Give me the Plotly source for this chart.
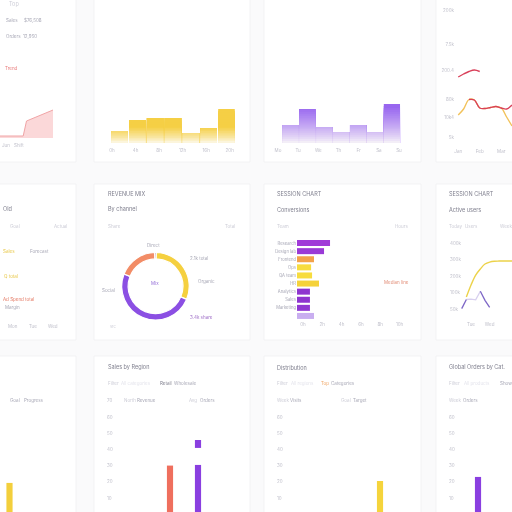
import numpy as np
import plotly.graph_objects as go

W, H = 512, 512

# ---------------- data ----------------
# row 1
trend_x = [0, 7, 8, 16]
trend_y = [2, 2, 17, 28]

hour_vals = [12, 23, 25, 25, 10, 15, 34]
hour_ticks = ["0h", "4h", "8h", "12h", "16h", "20h"]

day_vals = [18, 34, 16, 11, 18, 11, 39]
day_ticks = ["Mo", "Tu", "We", "Th", "Fr", "Sa", "Su"]

price_x = [0, 0.25, 0.5, 0.75, 1.0, 1.25, 1.5, 1.75, 2.0, 2.25, 2.5]
price_high = [65, 68, 70.5, 72, 70.5, None, None, None, None, None, None]
price_mid = [None, None, 42.5, 42, 34, 33.5, 34.5, 35.5, 34, 33, 37]
price_low = [27, 33, 42.5, 42, 34, 33.5, 34.5, 35.5, 34, 25, 16]
price_tickvals = [5, 25, 43, 72, 98, 132]
price_ticks = ["5k", "10k4", "80k", "200.4", "7.5k", "200k"]
price_xticks = ["Jan", "Feb", "Mar"]

# row 2
mix_labels = ["Other", "Direct", "Social", "Referral"]
mix_vals = [0.8, 31, 49.5, 18.7]

teams = ["Research", "Design lab", "Frontend", "Ops", "QA team",
         "HR", "Analytics", "Sales", "Marketing", " "]
team_hours = [1.71, 1.40, 0.88, 0.73, 0.78, 1.14, 0.67, 0.67, 0.67, 0.88]
hour_axis = ["0h", "2h", "4h", "6h", "8h", "10h"]

users_x = [0.5, 0.75, 1.0, 1.25, 1.5, 1.75, 2.0, 2.25, 2.5, 2.75, 3.0, 3.25]
users_new = [None, 0.75, 1.48, 2.08, 2.45, 2.75, 2.87, 2.92, 2.93, 2.93, 2.93, 2.93]
users_back = [0.05, 0.6, None, None, 1.1, 0.55, 0.12, None, None, None, None, None]
users_idle = [None, 0.6, 0.62, 0.58, 1.1, None, None, None, None, None, None, None]
users_yticks = ["50k", "100k", "200k", "300k", "400k"]
users_xticks = ["Mon", "Tue", "Wed", "Thu"]

# row 3
goal_cats = ["Q1"]
goal_vals = [1.93]

region_cats = ["Jan", "Feb", "Mar", "Apr", "May"]
region_retail = [None, None, 3.0, None, None]
region_whole = [None, None, None, 3.04, None]
region_peak_lo = [None, None, None, 4.09, None]
region_peak_hi = [None, None, None, 4.58, None]

dist_cats = ["A", "B", "C", "D", "E"]
dist_vals = [None, None, None, 2.05, None]

orders_cats = ["W1", "W2", "W3"]
orders_vals = [None, 2.3, None]

row3_ticks = ["10", "20", "30", "40", "50", "60", "70"]

# ---------------- style ----------------
FONT = "Inter"
TITLE = "#80808f"
LABEL = "#a8a8b6"
FAINT = "#cdcdd7"
TICK = "#bfbfca"
YELLOW = "#f5d03f"
PURPLE = "#8b4fe3"
RED = "#d9405a"
ORANGE = "#f28c66"


def blend(c1, c2, t):
    a = [int(c1[i:i + 2], 16) for i in (1, 3, 5)]
    b = [int(c2[i:i + 2], 16) for i in (1, 3, 5)]
    return "rgb(%d,%d,%d)" % tuple(round(a[k] + (b[k] - a[k]) * t) for k in range(3))


def xd(x0, x1):
    return [max(0, x0 / W), min(1, x1 / W)]


def yd(y0, y1):
    return [max(0, 1 - y1 / H), min(1, 1 - y0 / H)]


def axis(dom, **kw):
    a = dict(domain=dom, showgrid=False, zeroline=False, showline=False, ticks="",
             showticklabels=False, fixedrange=True, automargin=False,
             tickfont=dict(size=4.5, color=TICK, family=FONT))
    a.update(kw)
    return a


fig = go.Figure()
axes = {}


def add_axes(n, xdom, ydom, xkw, ykw):
    sx = "" if n == 1 else str(n)
    axes["xaxis" + sx] = axis(xdom, anchor="y" + sx, **xkw)
    axes["yaxis" + sx] = axis(ydom, anchor="x" + sx, **ykw)
    return "x" + sx, "y" + sx


def gradient_bars(x, vals, color, ax, width, solid_frac, n=20):
    # colour fades from white at the baseline to full colour at solid_frac of the tallest bar
    top = max(vals)
    v = np.array(vals, float)
    levels = np.linspace(0, top, n + 1)
    for i in range(n - 1, -1, -1):
        t = min(1.0, levels[i + 1] / (solid_frac * top)) ** 0.8
        fig.add_trace(go.Bar(x=x, y=np.minimum(v, levels[i + 1]), width=width,
                             marker=dict(color=blend("#fdfcf8", color, t), line_width=0),
                             xaxis=ax[0], yaxis=ax[1], hoverinfo="skip"))


# ---- A: trend area ----
ax = add_axes(1, xd(0, 53), yd(105, 138),
              dict(range=[0, 16]), dict(range=[0, 33]))
fig.add_trace(go.Scatter(x=trend_x, y=trend_y, mode="lines", fill="tozeroy",
                         line=dict(color="#f0a4a6", width=1),
                         fillcolor="rgba(248,190,192,0.6)",
                         xaxis=ax[0], yaxis=ax[1], hoverinfo="skip"))

# ---- B: hourly yellow bars ----
ax = add_axes(2, xd(110.6, 235.4), yd(103, 143),
              dict(range=[-0.5, 6.5], showticklabels=True, ticklabelstandoff=3,
                   tickvals=np.linspace(-0.42, 6.18, 6), ticktext=hour_ticks),
              dict(range=[0, 40]))
gradient_bars(list(range(7)), hour_vals, "#f5cf45", ax, 0.93, 0.5)

# ---- C: daily purple bars ----
ax = add_axes(3, xd(273.6, 401.2), yd(103, 143),
              dict(range=[-1.0, 6.55], showticklabels=True, ticklabelstandoff=3,
                   tickvals=np.linspace(-0.74, 6.42, 7), ticktext=day_ticks),
              dict(range=[0, 40]))
gradient_bars(list(range(7)), day_vals, "#9866ef", ax, 0.96, 0.95)

# ---- D: price lines ----
ax = add_axes(4, xd(455, 512), yd(2, 142),
              dict(range=[-0.15, 2.5], showticklabels=True, ticklabelstandoff=5,
                   tickvals=[0, 1, 2], ticktext=price_xticks),
              dict(range=[0, 140], showticklabels=True,
                   tickvals=price_tickvals, ticktext=price_ticks))
for ys, col in ((price_low, "#f2c25a"), (price_mid, RED), (price_high, RED)):
    fig.add_trace(go.Scatter(x=price_x, y=ys, mode="lines",
                             line=dict(color=col, width=1.4, shape="spline"),
                             xaxis=ax[0], yaxis=ax[1], hoverinfo="skip"))

# ---- F: donut ----
fig.add_trace(go.Pie(labels=mix_labels, values=mix_vals, hole=0.81, sort=False,
                     direction="clockwise", rotation=-1.5, textinfo="none",
                     hoverinfo="skip",
                     marker=dict(colors=["#7a2430", YELLOW, PURPLE, ORANGE],
                                 line=dict(color="#ffffff", width=1.2)),
                     domain=dict(x=xd(121.5, 189.5), y=yd(252.5, 320))))

# ---- G: team hours ----
ax = add_axes(5, xd(297, 410), yd(239, 320),
              dict(range=[0, 5.85], showticklabels=True, tickvals=list(range(6)),
                   ticktext=hour_axis, ticklabelshift=6),
              dict(type="category", range=[9.5, -0.5], showticklabels=True,
                   tickfont=dict(size=4.2, color=LABEL, family=FONT)))
team_colors = ["#a03ad8", "#9a3ad6", "#f3a24a", "#f7dc3e", "#f7dc3e",
               "#f5d23a", "#8e34cf", "#8e34cf", "#9038d2", "#c9aef0"]
fig.add_trace(go.Bar(x=team_hours, y=teams, orientation="h", width=0.74,
                     marker=dict(color=team_colors, line_width=0),
                     xaxis=ax[0], yaxis=ax[1], hoverinfo="skip"))

# ---- H: user lines ----
ax = add_axes(6, xd(447, 512), yd(236, 316),
              dict(range=[-0.29, 3.2], showticklabels=True, ticklabelstandoff=4,
                   tickvals=[0, 1, 2, 3], ticktext=users_xticks),
              dict(range=[-0.4, 4.45], showticklabels=True, ticklabelposition="inside",
                   tickvals=[0, 1, 2, 3, 4], ticktext=users_yticks))
fig.add_trace(go.Scatter(x=users_x, y=users_idle, mode="lines",
                         line=dict(color="#d8d0ee", width=1.3),
                         xaxis=ax[0], yaxis=ax[1], hoverinfo="skip"))
fig.add_trace(go.Scatter(x=users_x, y=users_back, mode="lines",
                         line=dict(color="#7d66c6", width=1.3),
                         xaxis=ax[0], yaxis=ax[1], hoverinfo="skip"))
fig.add_trace(go.Scatter(x=users_x, y=users_new, mode="lines",
                         line=dict(color="#ecd24a", width=1.4, shape="spline"),
                         xaxis=ax[0], yaxis=ax[1], hoverinfo="skip"))

# ---- row 3 bar charts ----
r3y = dict(range=[0.136, 7.17])
ax = add_axes(7, xd(0, 40), yd(398, 512), dict(type="category", range=[-0.339, 1.089]), r3y)
fig.add_trace(go.Bar(x=goal_cats, y=goal_vals, width=0.22, marker=dict(color="#f3cf3c", line_width=0),
                     xaxis=ax[0], yaxis=ax[1], hoverinfo="skip"))

ax = add_axes(8, xd(104, 244), yd(398, 512), dict(type="category", range=[-0.357, 4.643]),
              dict(r3y, showticklabels=True, ticklabelposition="inside",
                   tickvals=list(range(1, 8)), ticktext=row3_ticks))
fig.add_trace(go.Bar(x=region_cats, y=region_retail, width=0.22,
                     marker=dict(color="#ef6f5e", line_width=0),
                     xaxis=ax[0], yaxis=ax[1], hoverinfo="skip"))
fig.add_trace(go.Bar(x=region_cats, y=region_whole, width=0.22,
                     marker=dict(color="#8a3fe0", line_width=0),
                     xaxis=ax[0], yaxis=ax[1], hoverinfo="skip"))
fig.add_trace(go.Bar(x=region_cats,
                     y=[None if a is None else b - a for a, b in zip(region_peak_lo, region_peak_hi)],
                     base=region_peak_lo, width=0.22,
                     marker=dict(color="#8a3fe0", line_width=0),
                     xaxis=ax[0], yaxis=ax[1], hoverinfo="skip"))

ax = add_axes(9, xd(274, 414), yd(398, 512), dict(type="category", range=[-0.786, 4.214]),
              dict(r3y, showticklabels=True, ticklabelposition="inside",
                   tickvals=list(range(1, 7)), ticktext=row3_ticks[:6]))
fig.add_trace(go.Bar(x=dist_cats, y=dist_vals, width=0.22,
                     marker=dict(color="#f5d43c", line_width=0),
                     xaxis=ax[0], yaxis=ax[1], hoverinfo="skip"))

ax = add_axes(10, xd(446, 512), yd(398, 512), dict(type="category", range=[-0.143, 2.214]),
              dict(r3y, showticklabels=True, ticklabelposition="inside",
                   tickvals=list(range(1, 7)), ticktext=row3_ticks[:6]))
fig.add_trace(go.Bar(x=orders_cats, y=orders_vals, width=0.22,
                     marker=dict(color="#8a3fe0", line_width=0),
                     xaxis=ax[0], yaxis=ax[1], hoverinfo="skip"))

# ---------------- cards ----------------
shapes = []
for cx0, cx1 in ((-10, 76), (94, 250), (264, 421), (436, 530)):
    for cy0, cy1 in ((-10, 162), (184, 340), (356, 530)):
        shapes.append(dict(type="rect", xref="paper", yref="paper", layer="below",
                           x0=cx0 / W, x1=cx1 / W, y0=1 - cy1 / H, y1=1 - cy0 / H,
                           fillcolor="#ffffff", line=dict(color="#f0f0f3", width=0.8)))

# ---------------- text ----------------
notes = []


def note(x, y, text, color=LABEL, size=4.5, anchor="left"):
    notes.append(dict(x=x / W, y=1 - y / H, xref="paper", yref="paper", text=text,
                      showarrow=False, xanchor=anchor, yanchor="middle",
                      font=dict(size=size, color=color, family=FONT)))


# card A
note(7, 4, "Top", FAINT, 5.5)
note(4, 20, "Sales")
note(22, 20, "$76,508")
note(4, 36, "Orders")
note(21, 36, "12,950")
note(3, 68, "Trend", "#e87a7a")
note(0, 145, "Jun", TICK)
note(12, 145, "Shift", TICK)
# card E
note(1, 209, "Old", TITLE, 5.5)
note(8, 226, "Goal", FAINT)
note(52, 226, "Actual", FAINT)
note(1, 251, "Sales", "#e8c84a")
note(28, 251, "Forecast")
note(2, 276, "Q total", "#e8c84a")
note(1, 299, "Ad Spend total", "#e47a64")
note(3, 307, "Margin")
for xx, tt in ((13, "Mon"), (33, "Tue"), (53, "Wed")):
    note(xx, 326, tt, TICK, 4.5, "center")
# card F
note(106, 194, "REVENUE MIX", TITLE, 5.5)
note(106, 209, "By channel", TITLE, 5.5)
note(106, 226, "Share", FAINT)
note(237, 226, "Total", FAINT, 4.5, "right")
note(153, 245, "Direct", LABEL, 4.5, "center")
note(188, 258, "2.1k total")
note(196, 281, "Organic")
note(117, 290, "Social", LABEL, 4.5, "right")
note(188, 317, "3.4k share", "#a070c8")
note(155, 283, "Mix", "#9670d8", 4.5, "center")
note(108, 326, "src", FAINT, 4)
# card G
note(275, 194, "SESSION CHART", TITLE, 5.5)
note(275, 209, "Conversions", TITLE, 5.5)
note(275, 226, "Team", FAINT)
note(410, 226, "Hours", FAINT, 4.5, "right")
note(382, 282, "Median line", "#e28e78")
# card H
note(447, 194, "SESSION CHART", TITLE, 5.5)
note(447, 209, "Active users", TITLE, 5.5)
note(447, 226, "Today", FAINT)
note(463, 226, "Users", FAINT)
note(498, 226, "Week", FAINT)
# card I
note(8, 400, "Goal")
note(22, 400, "Progress")
# card J
note(106, 366, "Sales by Region", TITLE, 5.5)
note(106, 383, "Filter", FAINT)
note(119, 383, "All categories", "#e4e4ec")
note(158, 383, "Retail", TITLE)
note(172, 383, "Wholesale")
note(122, 400, "North", FAINT)
note(135, 400, "Revenue")
note(187, 400, "Avg", FAINT)
note(198, 400, "Orders")
# card K
note(275, 367, "Distribution", TITLE, 5.5)
note(275, 383, "Filter", FAINT)
note(289, 383, "All regions", "#e4e4ec")
note(319, 383, "Top", "#f0a868")
note(329, 383, "Categories")
note(275, 400, "Week", FAINT)
note(288, 400, "Visits")
note(339, 400, "Goal", FAINT)
note(351, 400, "Target")
# card L
note(447, 367, "Global Orders by Cat.", TITLE, 5.5)
note(447, 383, "Filter", FAINT)
note(462, 383, "All products", "#e4e4ec")
note(498, 383, "Show")
note(447, 400, "Week", FAINT)
note(461, 400, "Orders")

fig.update_layout(
    width=W, height=H, margin=dict(l=0, r=0, t=0, b=0),
    paper_bgcolor="#fafafb", plot_bgcolor="rgba(0,0,0,0)",
    showlegend=False, barmode="overlay",
    font=dict(family=FONT, size=5, color=LABEL),
    shapes=shapes, annotations=notes, **axes,
)

# the page body keeps the browser's 8px margin otherwise; a slight blur gives the soft look
fig.write_html("out.html", config={"displayModeBar": False},
               post_script="document.body.style.margin='0';document.body.style.overflow='hidden';"
                           "document.body.style.filter='blur(0.4px)';")
